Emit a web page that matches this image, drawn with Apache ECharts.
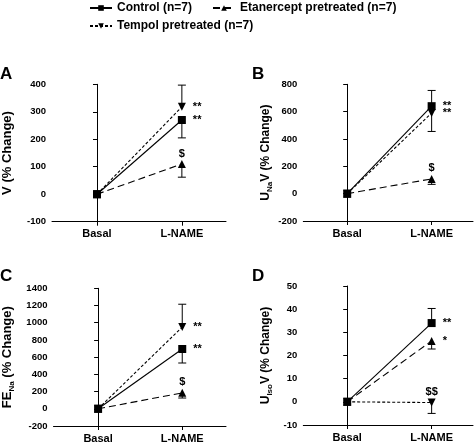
<!DOCTYPE html>
<html>
<head>
<meta charset="utf-8">
<script src="https://cdn.jsdelivr.net/npm/echarts@6/dist/echarts.min.js"></script>
<style>
html,body{margin:0;padding:0;background:#fff;}
#chart{width:475px;height:444px;}
</style>
</head>
<body>
<div id="chart"></div>
<script>
// ---- data ----
var categories = ['Basal', 'L-NAME'];
var seriesNames = ['Control (n=7)', 'Etanercept pretreated (n=7)', 'Tempol pretreated (n=7)'];

// Panel A: V (% Change)
var aControl = [0, 270];
var aEtan = [0, 110];
var aTempol = [0, 318];
var aControlErr = [0, 205];
var aEtanErr = [0, 62];
var aTempolErr = [0, 397];
var aSig = ['**', '$', '**'];
var aTicks = [-100, 400, 100];

// Panel B: UNaV (% Change)
var bControl = [0, 640];
var bEtan = [0, 108];
var bTempol = [0, 590];
var bControlErr = [0, 755];
var bEtanErr = [0, 68];
var bTempolErr = [0, 455];
var bSig = ['**', '$', '**'];
var bTicks = [-200, 800, 200];

// Panel C: FENa (% Change)
var cControl = [0, 695];
var cEtan = [0, 185];
var cTempol = [0, 950];
var cControlErr = [0, 532];
var cEtanErr = [0, 125];
var cTempolErr = [0, 1215];
var cSig = ['**', '$', '**'];
var cTicks = [-200, 1400, 200];

// Panel D: UIsoV (% Change)
var dControl = [0, 34];
var dEtan = [0, 26.3];
var dTempol = [0, -0.3];
var dControlErr = [0, 40.3];
var dEtanErr = [0, 22.8];
var dTempolErr = [0, -5];
var dSig = ['**', '*', '$$'];
var dTicks = [-10, 50, 10];

// ---- layout / styles ----
var FONT = '"Liberation Sans", Arial, sans-serif';
var panels = [
  {grid:{left:51.7, top:84.3, width:174.3, height:137.4}, xmin:-0.53, xmax:1.52, ticks:aTicks,
   vals:[aControl,aEtan,aTempol], errs:[aControlErr,aEtanErr,aTempolErr], sig:aSig,
   name:'V (% Change)', nameGap:38, nameSize:13, letter:'A', lx:0, ly:66, sigPos:['right','top','right']},
  {grid:{left:303.3, top:84.3, width:169.7, height:136.7}, xmin:-0.52, xmax:1.49, ticks:bTicks,
   vals:[bControl,bEtan,bTempol], errs:[bControlErr,bEtanErr,bTempolErr], sig:bSig,
   name:'{n|U}{s|Na}{n|V (% Change)}', nameGap:30, nameSize:12, letter:'B', lx:252, ly:66, sigPos:['right','top','right']},
  {grid:{left:51.7, top:288.3, width:174.3, height:137.7}, xmin:-0.53, xmax:1.52, ticks:cTicks,
   vals:[cControl,cEtan,cTempol], errs:[cControlErr,cEtanErr,cTempolErr], sig:cSig,
   name:'{n|FE}{s|Na}{n| (% Change)}', nameGap:38, nameSize:13, letter:'C', lx:0, ly:268, sigPos:['right','top','right']},
  {grid:{left:303.3, top:286, width:169.7, height:139}, xmin:-0.52, xmax:1.49, ticks:dTicks,
   vals:[dControl,dEtan,dTempol], errs:[dControlErr,dEtanErr,dTempolErr], sig:dSig,
   name:'{n|U}{s|Iso}{n|V (% Change)}', nameGap:30, nameSize:12, letter:'D', lx:252, ly:268, sigPos:['right','right','top']}
];

var lineTypes = ['solid', [7, 4], [3, 2]];
var symbols = ['rect', 'triangle', 'triangle'];
var symbolRot = [0, 0, 180];
var symbolSizes = [8, 8, 8];

var option = {
  animation: false,
  backgroundColor: '#fff',
  textStyle: {fontFamily: FONT},
  legend: [
    {data: [seriesNames[0], seriesNames[1]], left: 84, top: -3, itemWidth: 22, itemHeight: 7, itemGap: 20,
     textStyle: {fontFamily: FONT, fontWeight: 'bold', fontSize: 12, color: '#000'}},
    {data: [seriesNames[2]], left: 84, top: 15, itemWidth: 22, itemHeight: 7,
     textStyle: {fontFamily: FONT, fontWeight: 'bold', fontSize: 12, color: '#000'}}
  ],
  grid: [], xAxis: [], yAxis: [], series: [], graphic: []
};

panels.forEach(function(p, i){
  option.grid.push(p.grid);
  option.xAxis.push({
    type: 'value', gridIndex: i, min: p.xmin, max: p.xmax,
    axisLine: {show: true, onZero: false, lineStyle: {color: '#000', width: 1}},
    splitLine: {show: false},
    axisTick: {show: true, customValues: [0, 1], length: 4, lineStyle: {color: '#000'}},
    axisLabel: {customValues: [0, 1], margin: 7, color: '#000', fontWeight: 'bold', fontSize: 11, fontFamily: FONT,
      formatter: function(v){ return categories[Math.round(v)]; }}
  });
  option.yAxis.push({
    type: 'value', gridIndex: i, min: p.ticks[0], max: p.ticks[1], interval: p.ticks[2],
    axisLine: {show: true, lineStyle: {color: '#000', width: 1}},
    splitLine: {show: false},
    axisTick: {show: true, length: 4, lineStyle: {color: '#000'}},
    axisLabel: {margin: 6, color: '#000', fontWeight: 'bold', fontSize: 9.5, fontFamily: FONT,
      formatter: function(v){ return String(v); }},
    name: p.name, nameLocation: 'middle', nameGap: p.nameGap,
    nameTextStyle: {color: '#000', fontWeight: 'bold', fontSize: p.nameSize, fontFamily: FONT,
      rich: {
        n: {fontWeight: 'bold', fontSize: p.nameSize, fontFamily: FONT, color: '#000', lineHeight: 16, verticalAlign: 'middle'},
        s: {fontWeight: 'bold', fontSize: 8, fontFamily: FONT, color: '#000', lineHeight: 9, verticalAlign: 'bottom'}
      }}
  });
  // error bars
  var errData = [];
  p.vals.forEach(function(v, k){
    errData.push([1, v[1], p.errs[k][1]]);
  });
  option.series.push({
    type: 'custom', name: 'err' + i, xAxisIndex: i, yAxisIndex: i, z: 1,
    data: errData,
    renderItem: function(params, api){
      var a = api.coord([api.value(0), api.value(1)]);
      var b = api.coord([api.value(0), api.value(2)]);
      return {type: 'group', children: [
        {type: 'line', shape: {x1: a[0], y1: a[1], x2: b[0], y2: b[1]}, style: {stroke: '#000', lineWidth: 1}},
        {type: 'line', shape: {x1: b[0]-4, y1: b[1], x2: b[0]+4, y2: b[1]}, style: {stroke: '#000', lineWidth: 1}}
      ]};
    }
  });
  // lines
  p.vals.forEach(function(v, k){
    var pos = p.sigPos[k];
    option.series.push({
      type: 'line', name: seriesNames[k], xAxisIndex: i, yAxisIndex: i, z: 5 - k,
      symbol: symbols[k], symbolRotate: symbolRot[k], symbolSize: symbolSizes[k],
      lineStyle: {color: '#000', width: 1.1, type: lineTypes[k]},
      itemStyle: {color: '#000'},
      data: [
        {value: [0, v[0]]},
        {value: [1, v[1]], label: {show: true, formatter: p.sig[k], position: pos, distance: pos === 'top' ? 1 : 7,
          color: '#000', fontWeight: 'bold', fontSize: 11, fontFamily: FONT}}
      ]
    });
  });
  option.graphic.push({type: 'text', left: p.lx, top: p.ly,
    style: {text: p.letter, fontFamily: FONT, fontWeight: 'bold', fontSize: 17, fill: '#000'}});
});

var chart = echarts.init(document.getElementById('chart'), null, {renderer: 'canvas'});
chart.setOption(option);
</script>
</body>
</html>
